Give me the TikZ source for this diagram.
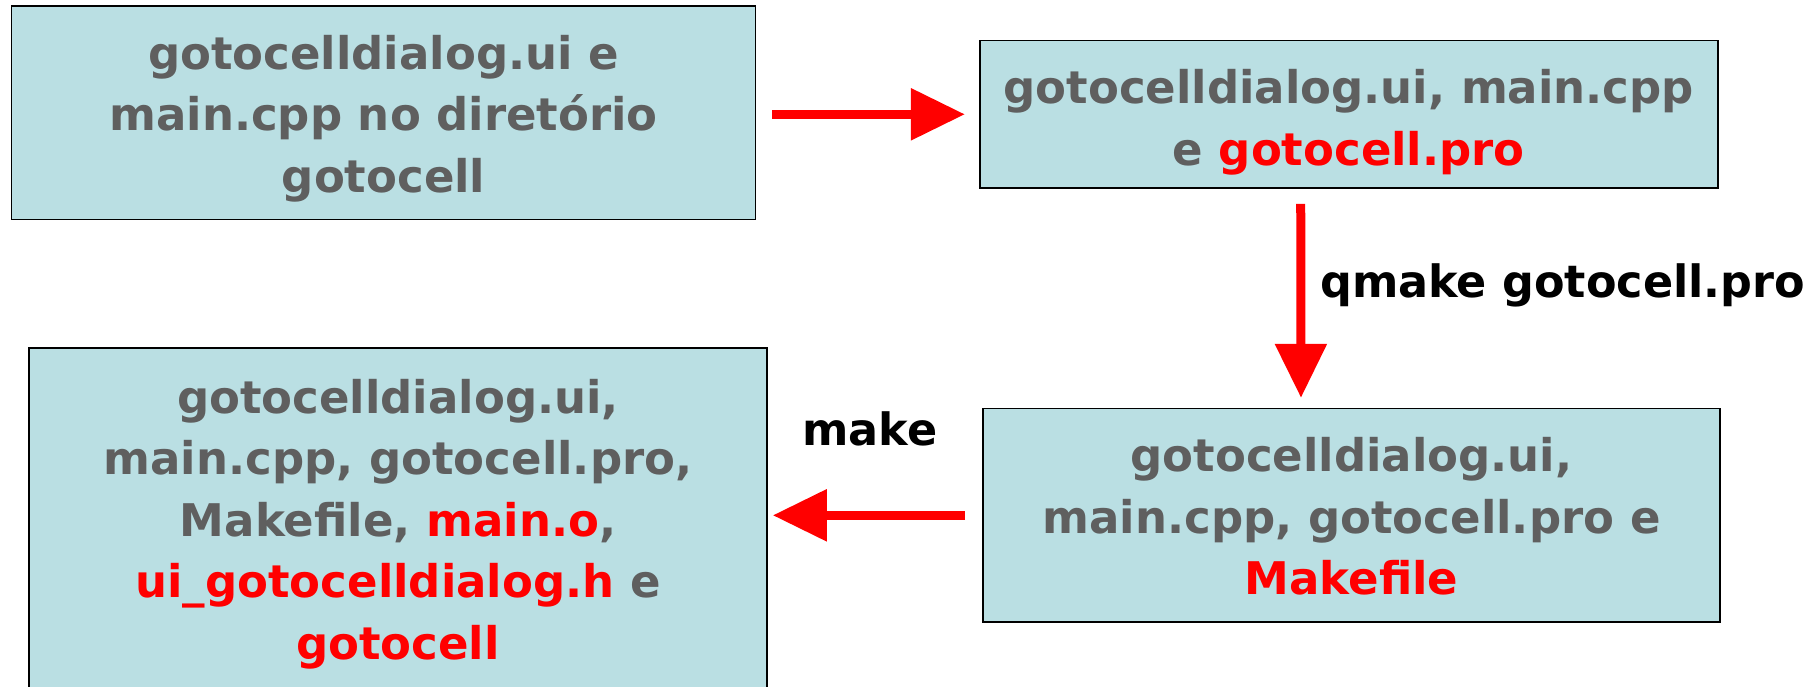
\documentclass[tikz,border=0pt]{standalone}
\usepackage{fontspec}
\setmainfont{DejaVu Sans}
\usetikzlibrary{arrows.meta}
\definecolor{boxfill}{HTML}{BADFE3}
\definecolor{txtgray}{HTML}{5F5F5F}
\definecolor{hired}{HTML}{FF0000}
\tikzset{
  filebox/.style={draw=black, line width=1.6pt, fill=boxfill, inner sep=0pt},
  boxtext/.style={align=center, text=txtgray,
    font=\bfseries\fontsize{45}{61.5}\selectfont, inner sep=0pt},
  flowarrow/.style={draw=hired, line width=9pt,
    -{Triangle[length=54pt, width=50pt]}},
  steplabel/.style={text=black, font=\bfseries\fontsize{44.5}{54}\selectfont, inner sep=0pt}
}
\newcommand{\hl}[1]{\textcolor{hired}{#1}}
\begin{document}
\begin{tikzpicture}[x=1pt, y=-1pt]
\useasboundingbox (0,0) rectangle (1820,686);
\clip (0,0) rectangle (1820,686);
\node[filebox, minimum width=744pt, minimum height=213.6pt] (b1) at (383.6,112.6) {};
\node[boxtext] (t1) at ([yshift=-6pt]b1.center)
  {gotocelldialog.ui e\\main.cpp no diretório\\gotocell};
\node[filebox, minimum width=738pt, minimum height=147.4pt] (b2) at (1348.7,114.3) {};
\node[boxtext] (t2) at ([yshift=-8pt]b2.center)
  {gotocelldialog.ui, main.cpp\\e \hl{gotocell.pro}};
\node[filebox, minimum width=737pt, minimum height=213.4pt] (b4) at (1351.5,515.3) {};
\node[boxtext] (t4) at ([yshift=-1pt]b4.center)
  {gotocelldialog.ui,\\main.cpp, gotocell.pro e\\\hl{Makefile}};
\node[filebox, minimum width=738pt, minimum height=352pt] (b3) at (398,524) {};
\node[boxtext] (t3) at (b3.center)
  {gotocelldialog.ui,\\main.cpp, gotocell.pro,\\Makefile, \hl{main.o},\\\hl{ui\_gotocelldialog.h} e\\\hl{gotocell}};
\draw[flowarrow, shorten <=16pt, shorten >=14pt] (b1.east |- b2.west) -- (b2.west);
\draw[flowarrow, shorten <=15pt, shorten >=10pt] ([xshift=-48pt]b2.south) -- ([xshift=-50.5pt]b4.north);
\draw[flowarrow, shorten <=17pt, shorten >=5pt] (b4.west) -- (b4.west -| b3.east);
\node[steplabel, anchor=west] (lq) at (1320,285) {qmake gotocell.pro};
\node[steplabel] (lm) at (870,429) {make};
\end{tikzpicture}
\end{document}
